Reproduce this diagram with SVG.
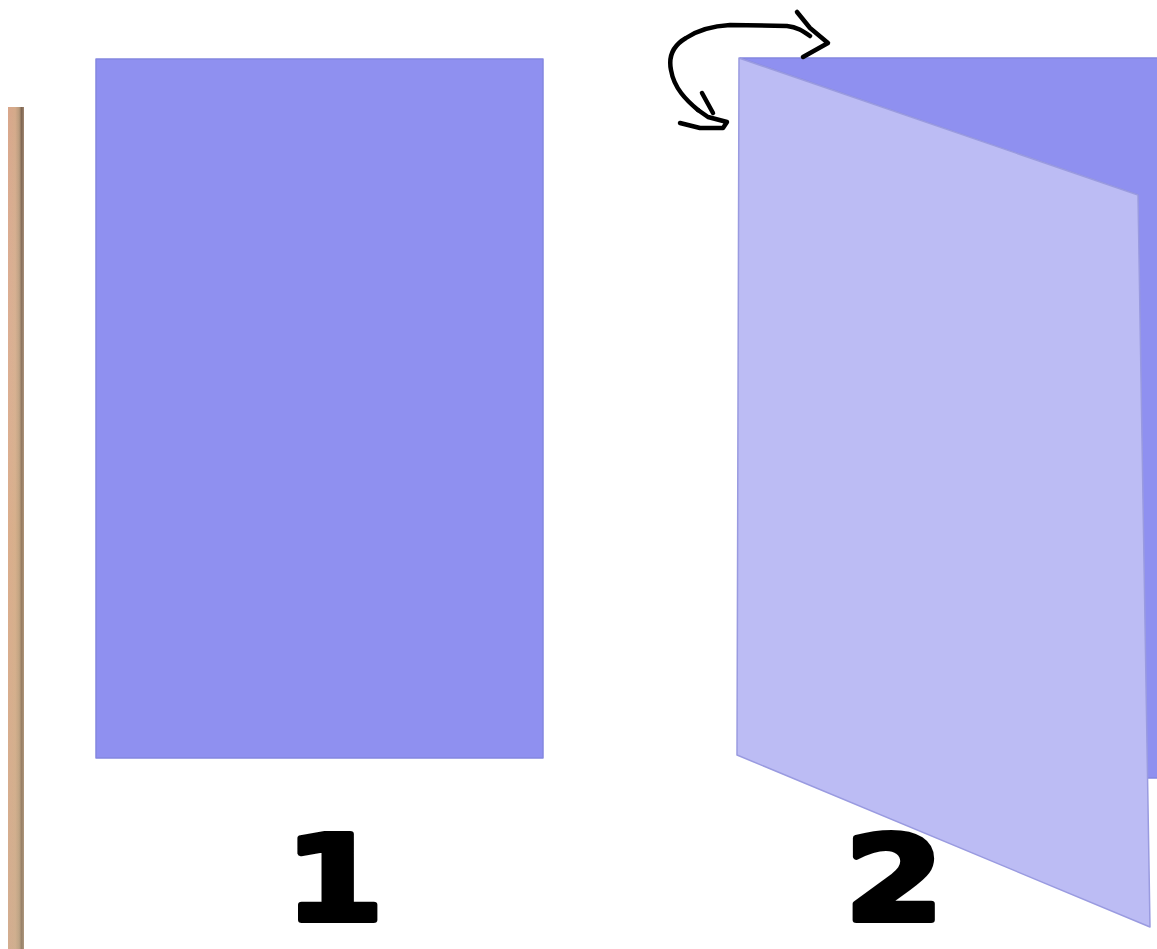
<svg xmlns="http://www.w3.org/2000/svg" width="1157" height="949" viewBox="0 0 1157 949">
  <style>
    .dark { fill: #8f90f0; stroke: #8486e0; stroke-width: 1.5; stroke-linejoin: round; }
    .light { fill: #bcbcf4; stroke: #9a9be0; stroke-width: 1.5; stroke-linejoin: round; }
    .num { font-family: "DejaVu Sans", "Liberation Sans", sans-serif; font-weight: bold; font-size: 118px; fill: #000; stroke: #000; stroke-width: 6; stroke-linejoin: round; }
    .pen { fill: none; stroke: #000; stroke-width: 4.5; stroke-linecap: round; stroke-linejoin: round; }
  </style>
  <defs>
    <linearGradient id="wood" x1="0" y1="0" x2="1" y2="0">
      <stop offset="0" stop-color="#d9a78c"/>
      <stop offset="0.45" stop-color="#d4aa8a"/>
      <stop offset="0.7" stop-color="#b89a7c"/>
      <stop offset="0.85" stop-color="#7d6450"/>
      <stop offset="1" stop-color="#a08670"/>
    </linearGradient>
    <linearGradient id="woodv" x1="0" y1="0" x2="0" y2="1">
      <stop offset="0" stop-color="#ffffff" stop-opacity="0"/>
      <stop offset="0.5" stop-color="#e0c090" stop-opacity="0.25"/>
      <stop offset="1" stop-color="#c8b898" stop-opacity="0.35"/>
    </linearGradient>
  </defs>
  <rect width="1157" height="949" fill="#ffffff"/>
  <g id="wood-strip">
    <rect x="8" y="107" width="16" height="842" fill="url(#wood)"/>
    <rect x="8" y="107" width="16" height="842" fill="url(#woodv)"/>
  </g>
  <g id="sheet-1">
    <rect class="dark" x="96" y="59" width="447" height="699"/>
    <text class="num" x="285" y="920" transform="translate(285 0) scale(1.2 1) translate(-285 0)">1</text>
  </g>
  <g id="sheet-2">
    <polygon class="dark" points="740,58 1158,58 1158,778 1146,778 1138,195"/>
    <polygon class="light" points="739,58 1138,195 1150,927 737,755"/>
    <text class="num" x="845" y="920" transform="translate(845 0) scale(1.2 1) translate(-845 0)">2</text>
  </g>
  <g id="connectors">
    <path class="pen" d="M698,110 C686,100 674,88 671,70 C668,55 674,45 686,38 C698,30 712,26 730,25 L787,26 C797,27 803,31 810,36"/>
    <path class="pen" d="M797,12 L810,28 L828,43 L803,57"/>
    <path class="pen" d="M702,93 L713,113 M698,110 L708,117 L727,122 L723,128 L700,128 L680,123"/>
  </g>
</svg>
